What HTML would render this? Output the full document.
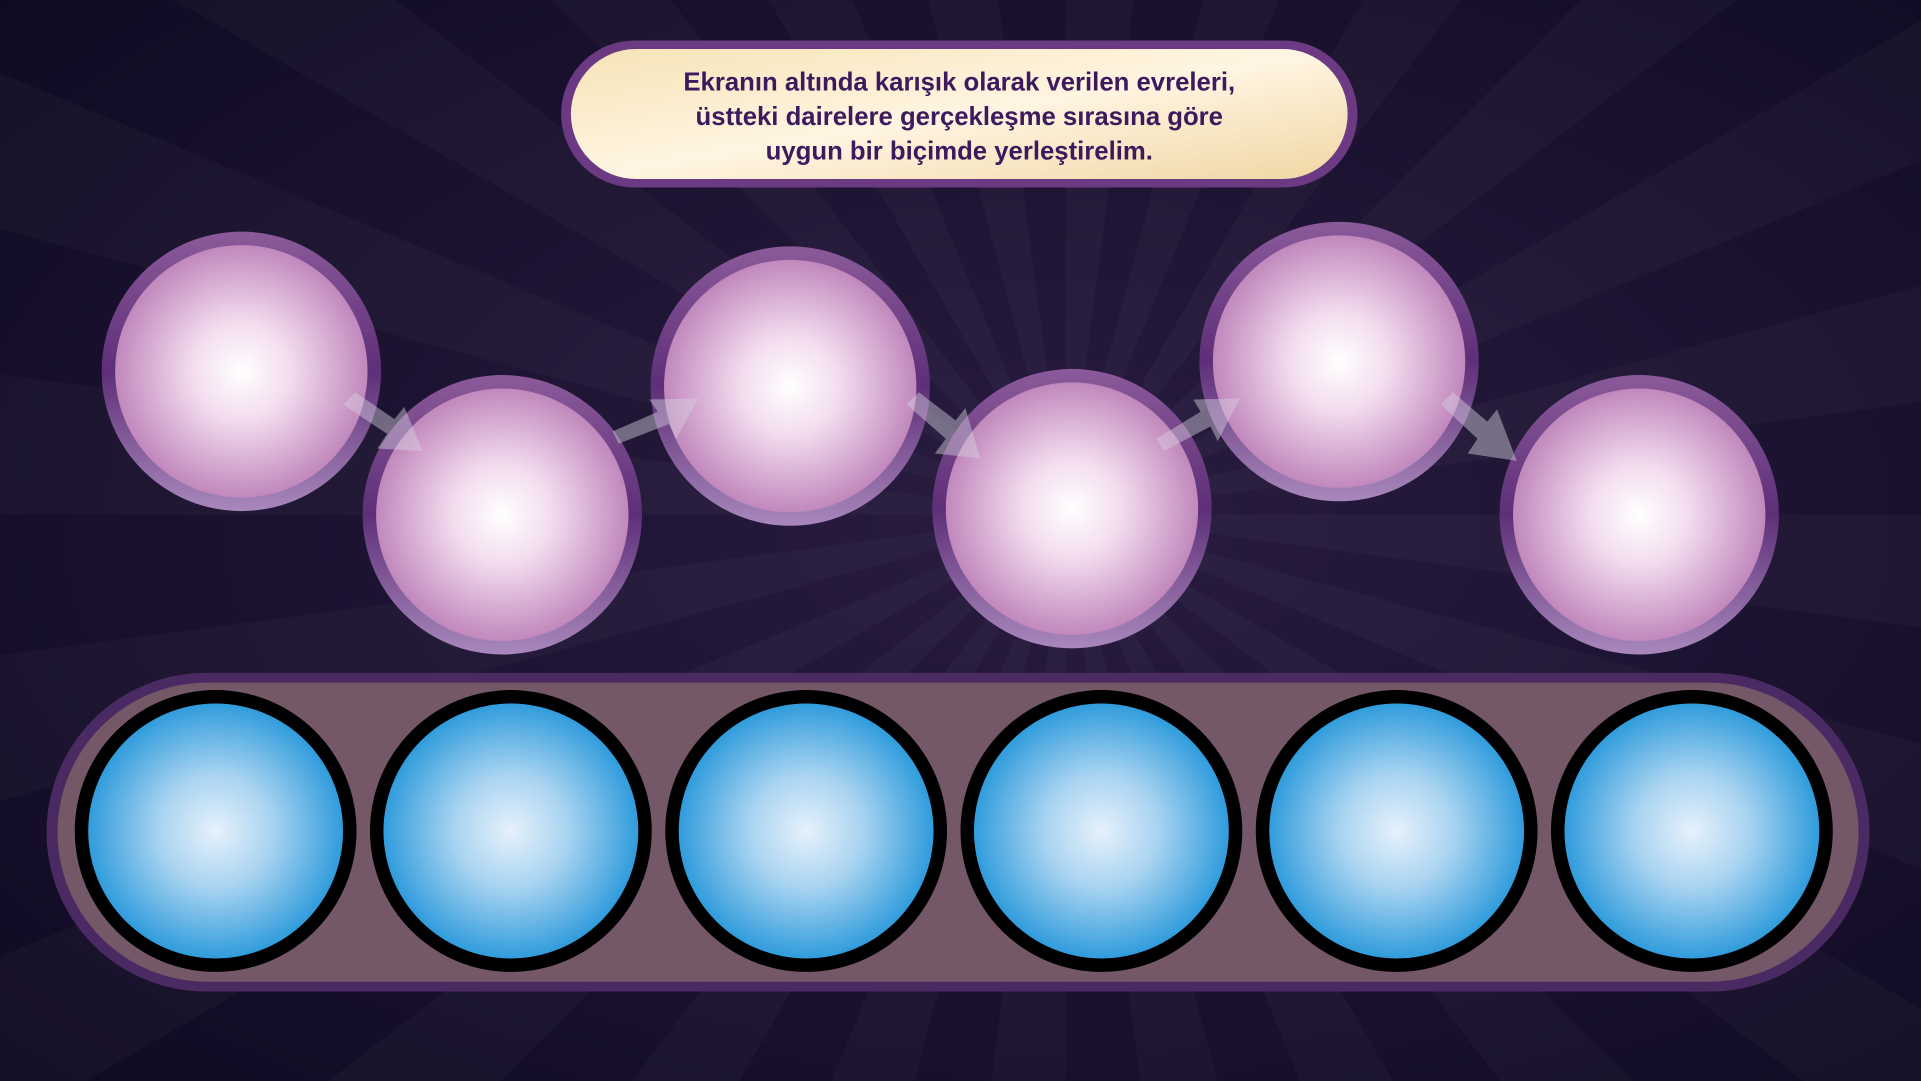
<!DOCTYPE html>
<html><head><meta charset="utf-8"><style>
html,body{margin:0;padding:0;width:1921px;height:1081px;overflow:hidden;background:#150f26}
svg{display:block;position:absolute;left:0;top:0}
</style></head><body>
<svg width="1921" height="1081" viewBox="0 0 1568 882" preserveAspectRatio="none" xmlns="http://www.w3.org/2000/svg">
<defs>
<radialGradient id="bg" cx="0.55" cy="0.48" r="0.8">
<stop offset="0" stop-color="#2a1c40"/><stop offset="0.5" stop-color="#1b1230"/><stop offset="1" stop-color="#0e0920"/>
</radialGradient>
<radialGradient id="pink" cx="0.5" cy="0.5" r="0.55">
<stop offset="0" stop-color="#ffffff"/><stop offset="0.35" stop-color="#f3ddef"/><stop offset="1" stop-color="#b97ab4"/>
</radialGradient>
<linearGradient id="pinkRing" x1="0" y1="0" x2="0" y2="1">
<stop offset="0" stop-color="#8a5a9a"/><stop offset="0.5" stop-color="#5e2f78"/><stop offset="1" stop-color="#a888bc"/>
</linearGradient>
<radialGradient id="blue" cx="0.5" cy="0.5" r="0.55">
<stop offset="0" stop-color="#e6f1fb"/><stop offset="0.4" stop-color="#a9d4f1"/><stop offset="1" stop-color="#1b92d8"/>
</radialGradient>
<linearGradient id="banner" x1="0" y1="0" x2="1" y2="1">
<stop offset="0" stop-color="#f6e3b6"/><stop offset="0.5" stop-color="#fff5e2"/><stop offset="1" stop-color="#f0d6a3"/>
</linearGradient>
</defs>
<rect width="1568" height="882" fill="url(#bg)"/>
<g fill="#ffffff" opacity="0.025" id="rays"></g>
<g>
<rect x="458" y="33" width="650" height="120" rx="60" fill="#6b3a83"/>
<rect x="466" y="40" width="634" height="106" rx="53" fill="url(#banner)"/>
<text x="783" y="74" text-anchor="middle" font-family="Liberation Sans, sans-serif" font-weight="bold" font-size="21" fill="#3d1a5e">Ekranın altında karışık olarak verilen evreleri,</text>
<text x="783" y="102" text-anchor="middle" font-family="Liberation Sans, sans-serif" font-weight="bold" font-size="21" fill="#3d1a5e">üstteki dairelere gerçekleşme sırasına göre</text>
<text x="783" y="130" text-anchor="middle" font-family="Liberation Sans, sans-serif" font-weight="bold" font-size="21" fill="#3d1a5e">uygun bir biçimde yerleştirelim.</text>
</g>
<g>
<g><circle cx="197" cy="303" r="114" fill="url(#pinkRing)"/><circle cx="197" cy="303" r="103" fill="url(#pink)"/></g>
<g><circle cx="410" cy="420" r="114" fill="url(#pinkRing)"/><circle cx="410" cy="420" r="103" fill="url(#pink)"/></g>
<g><circle cx="645" cy="315" r="114" fill="url(#pinkRing)"/><circle cx="645" cy="315" r="103" fill="url(#pink)"/></g>
<g><circle cx="875" cy="415" r="114" fill="url(#pinkRing)"/><circle cx="875" cy="415" r="103" fill="url(#pink)"/></g>
<g><circle cx="1093" cy="295" r="114" fill="url(#pinkRing)"/><circle cx="1093" cy="295" r="103" fill="url(#pink)"/></g>
<g><circle cx="1338" cy="420" r="114" fill="url(#pinkRing)"/><circle cx="1338" cy="420" r="103" fill="url(#pink)"/></g>
</g>
<g fill="#d8d0e0" opacity="0.45">
<polygon points="280,330 290,320 322,342 330,332 345,368 308,366 316,354"/>
<polygon points="505,362 500,352 537,336 530,326 570,325 552,358 546,346"/>
<polygon points="740,330 750,320 780,343 788,333 800,374 763,370 772,358"/>
<polygon points="950,368 944,358 980,336 974,326 1012,325 994,360 988,348"/>
<polygon points="1176,330 1186,320 1214,344 1222,334 1238,376 1198,370 1206,358"/>
</g>
<g>
<rect x="38" y="549" width="1488" height="260" rx="130" fill="#4a2a62"/>
<rect x="47" y="557" width="1470" height="244" rx="122" fill="#745868"/>
</g>
<g>
<g><circle cx="176" cy="678" r="115" fill="#000"/><circle cx="176" cy="678" r="104" fill="url(#blue)"/></g>
<g><circle cx="417" cy="678" r="115" fill="#000"/><circle cx="417" cy="678" r="104" fill="url(#blue)"/></g>
<g><circle cx="658" cy="678" r="115" fill="#000"/><circle cx="658" cy="678" r="104" fill="url(#blue)"/></g>
<g><circle cx="899" cy="678" r="115" fill="#000"/><circle cx="899" cy="678" r="104" fill="url(#blue)"/></g>
<g><circle cx="1140" cy="678" r="115" fill="#000"/><circle cx="1140" cy="678" r="104" fill="url(#blue)"/></g>
<g><circle cx="1381" cy="678" r="115" fill="#000"/><circle cx="1381" cy="678" r="104" fill="url(#blue)"/></g>
</g>
</svg>
<script>
var g=document.getElementById('rays');
for(var i=0;i<24;i++){var a1=i*Math.PI/12,a2=a1+Math.PI/24,cx=870,cy=420,R=2000;
var p=document.createElementNS('http://www.w3.org/2000/svg','polygon');
p.setAttribute('points',cx+','+cy+' '+(cx+R*Math.cos(a1))+','+(cy+R*Math.sin(a1))+' '+(cx+R*Math.cos(a2))+','+(cy+R*Math.sin(a2)));


g.appendChild(p);}
</script>
</body></html>
